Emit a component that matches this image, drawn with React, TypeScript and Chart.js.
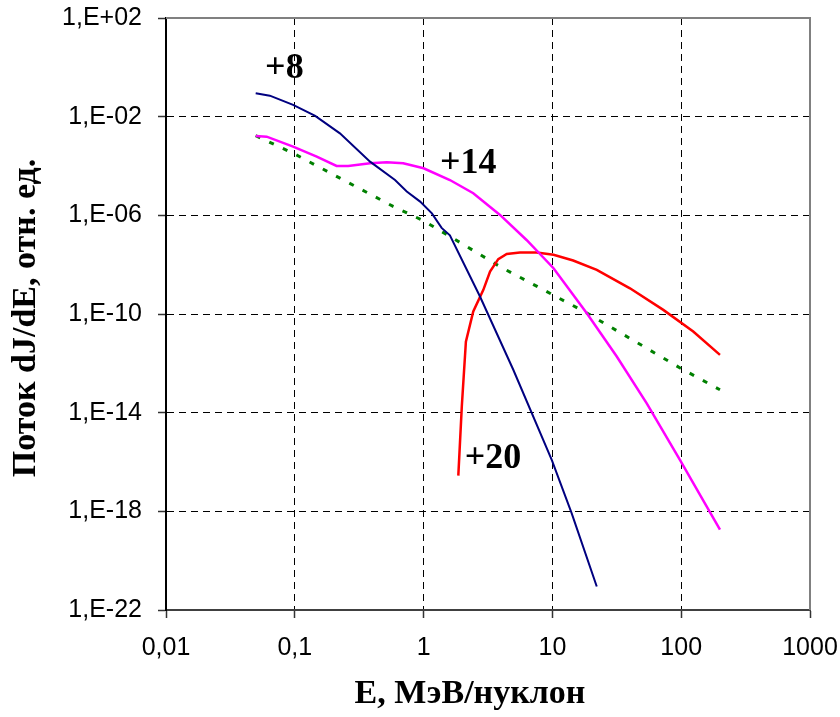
import React, { useEffect, useRef } from "react";
import { Chart, registerables } from "chart.js";

Chart.register(...registerables);

// ---- Data ----
const energy8 = [0.0497, 0.064, 0.097, 0.144, 0.224, 0.384, 0.6, 0.74, 0.94, 1.16, 1.38, 1.6, 2.74, 4.97, 9.9, 14.1, 22.1];
const flux8 = [8.9e-2, 7.1e-2, 3.0e-2, 1.07e-2, 2.1e-3, 1.5e-4, 2.7e-5, 9.2e-6, 3.6e-6, 1.2e-6, 3.1e-7, 1.54e-7, 5.1e-10, 5.5e-13, 1.2e-16, 8.5e-19, 9e-22];

const energy14 = [0.0497, 0.0605, 0.097, 0.148, 0.211, 0.26, 0.384, 0.518, 0.695, 1.0, 1.6, 2.43, 3.92, 6.3, 10.2, 18.5, 31.6, 54, 98, 200];
const flux14 = [1.66e-3, 1.55e-3, 6.1e-4, 2.4e-4, 1.0e-4, 1.0e-4, 1.3e-4, 1.42e-4, 1.3e-4, 8.1e-5, 2.7e-5, 7.9e-6, 1.04e-6, 1.0e-7, 7.2e-9, 1.08e-10, 1.9e-12, 2.4e-14, 1.2e-16, 1.8e-19];

const energy20 = [1.86, 1.98, 2.13, 2.43, 2.91, 3.28, 3.8, 4.42, 5.6, 7.55, 10.2, 14.5, 22.1, 40, 72.6, 124, 200];
const flux20 = [2.8e-17, 1.8e-14, 7.6e-12, 1.26e-10, 9.5e-10, 5.3e-9, 1.67e-8, 2.7e-8, 3.1e-8, 3.1e-8, 2.5e-8, 1.47e-8, 6.2e-9, 1.1e-9, 1.47e-10, 1.95e-11, 2.2e-12];

const energyRef = [0.0497, 0.097, 0.58, 1.0, 1.6, 3.92, 18.5, 98, 200];
const fluxRef = [1.7e-3, 3.3e-4, 2.3e-6, 6.0e-7, 1.4e-7, 8.3e-9, 1.1e-10, 6.5e-13, 8.5e-14];

const xTickValues = [0.01, 0.1, 1, 10, 100, 1000];
const xTickLabels = ["0,01", "0,1", "1", "10", "100", "1000"];
const yTickValues = [1e2, 1e-2, 1e-6, 1e-10, 1e-14, 1e-18, 1e-22];
const yTickLabels = ["1,E+02", "1,E-02", "1,E-06", "1,E-10", "1,E-14", "1,E-18", "1,E-22"];

const annotationTexts = ["+8", "+14", "+20"];
const annotationEnergy = [0.083, 2.22, 3.46];
const annotationFlux = [0.88, 1.25e-4, 1.3e-16];

const xTitle = "E, МэВ/нуклон";
const yTitle = "Поток dJ/dE, отн. ед.";

const TITLE_FONT = 'bold 34px "Liberation Serif", "Times New Roman", serif';

const pts = (xs: number[], ys: number[]) => xs.map((x, i) => ({ x, y: ys[i] }));

const framePlugin = {
  id: "frame",
  beforeDatasetsDraw(chart: any) {
    const { ctx, chartArea: a } = chart;
    ctx.save();
    ctx.strokeStyle = "#808080";
    ctx.lineWidth = 2;
    ctx.beginPath();
    ctx.moveTo(a.left, a.top);
    ctx.lineTo(a.right, a.top);
    ctx.lineTo(a.right, a.bottom);
    ctx.stroke();
    ctx.restore();
  },
};

const titlesPlugin = {
  id: "axisTitles",
  afterDraw(chart: any) {
    const { ctx, chartArea: a } = chart;
    ctx.save();
    ctx.fillStyle = "#000";
    ctx.font = TITLE_FONT;
    ctx.textAlign = "center";
    ctx.textBaseline = "middle";
    // x-axis title
    ctx.fillText(xTitle, (a.left + a.right) / 2 - 18, a.bottom + 84);
    // y-axis title (rotated)
    ctx.translate(26, (a.top + a.bottom) / 2 + 4);
    ctx.rotate(-Math.PI / 2);
    ctx.fillText(yTitle, 0, 0);
    ctx.restore();
  },
};

const labelPlugin = {
  id: "curveLabels",
  afterDatasetsDraw(chart: any) {
    const { ctx, scales } = chart;
    ctx.save();
    ctx.fillStyle = "#000";
    ctx.font = 'bold 36px "Liberation Serif", "Times New Roman", serif';
    ctx.textAlign = "center";
    ctx.textBaseline = "middle";
    annotationTexts.forEach((t, i) => {
      const x = scales.x.getPixelForValue(annotationEnergy[i]);
      const y = scales.y.getPixelForValue(annotationFlux[i]);
      ctx.fillText(t, x, y);
    });
    ctx.restore();
  },
};

export default function App() {
  const ref = useRef<HTMLCanvasElement>(null);
  useEffect(() => {
    const isEdge = (v: number, lo: number, hi: number) =>
      Math.abs(Math.log10(v) - Math.log10(lo)) < 1e-6 || Math.abs(Math.log10(v) - Math.log10(hi)) < 1e-6;
    const chart = new Chart(ref.current!, {
      type: "line",
      data: {
        datasets: [
          { data: pts(energy8, flux8), borderColor: "#000080", borderWidth: 2, pointRadius: 0, tension: 0, fill: false },
          { data: pts(energy14, flux14), borderColor: "#FF00FF", borderWidth: 2.5, pointRadius: 0, tension: 0, fill: false },
          { data: pts(energy20, flux20), borderColor: "#FF0000", borderWidth: 2.5, pointRadius: 0, tension: 0, fill: false },
          { data: pts(energyRef, fluxRef), borderColor: "#008000", borderWidth: 3, borderDash: [5, 10], pointRadius: 0, tension: 0, fill: false },
        ],
      },
      options: {
        animation: false,
        responsive: false,
        devicePixelRatio: 1,
        layout: { padding: { top: 18, right: 30, left: 0, bottom: 0 } },
        plugins: { legend: { display: false }, tooltip: { enabled: false } },
        scales: {
          x: {
            type: "logarithmic",
            min: 0.01,
            max: 1000,
            afterBuildTicks: (s: any) => {
              s.ticks = xTickValues.map((v) => ({ value: v }));
            },
            afterFit: (s: any) => {
              s.height = 107;
              s.paddingLeft = 0;
              s.paddingRight = 0;
            },
            ticks: {
              autoSkip: false,
              maxRotation: 0,
              minRotation: 0,
              padding: 15,
              color: "#000",
              font: { family: '"Liberation Sans", Arial, sans-serif', size: 25 },
              callback: (v: any) => xTickLabels[xTickValues.indexOf(Number(v))] ?? "",
            },
            grid: {
              color: (c: any) => (c.tick && isEdge(c.tick.value, 0.01, 1000) ? "rgba(0,0,0,0)" : "#000"),
              lineWidth: 1,
              tickLength: 8,
              tickColor: "#333",
              tickWidth: 1.5,
              tickBorderDash: [],
            },
            border: { display: true, color: "#404040", width: 2, dash: [7, 5] },
            title: { display: false },
          },
          y: {
            type: "logarithmic",
            min: 1e-22,
            max: 1e2,
            afterBuildTicks: (s: any) => {
              s.ticks = yTickValues.map((v) => ({ value: v }));
            },
            afterFit: (s: any) => {
              s.width = 166;
              s.paddingTop = 0;
              s.paddingBottom = 0;
            },
            ticks: {
              autoSkip: false,
              padding: 16,
              color: "#000",
              font: { family: '"Liberation Sans", Arial, sans-serif', size: 25 },
              callback: (v: any) => yTickLabels[yTickValues.indexOf(Number(v))] ?? "",
            },
            grid: {
              color: (c: any) => (c.tick && isEdge(c.tick.value, 1e-22, 1e2) ? "rgba(0,0,0,0)" : "#000"),
              lineWidth: 1,
              tickLength: 8,
              tickColor: "#333",
              tickWidth: 1.5,
              tickBorderDash: [],
            },
            border: { display: true, color: "#000", width: 2, dash: [7, 5] },
            title: { display: false },
          },
        },
      },
      plugins: [framePlugin, labelPlugin, titlesPlugin],
    } as any);
    return () => chart.destroy();
  }, []);
  return (
    <div style={{ position: "absolute", left: 0, top: 0, width: 840, height: 717, background: "#fff" }}>
      <canvas ref={ref} width={840} height={717} style={{ display: "block", width: 840, height: 717 }} />
    </div>
  );
}
